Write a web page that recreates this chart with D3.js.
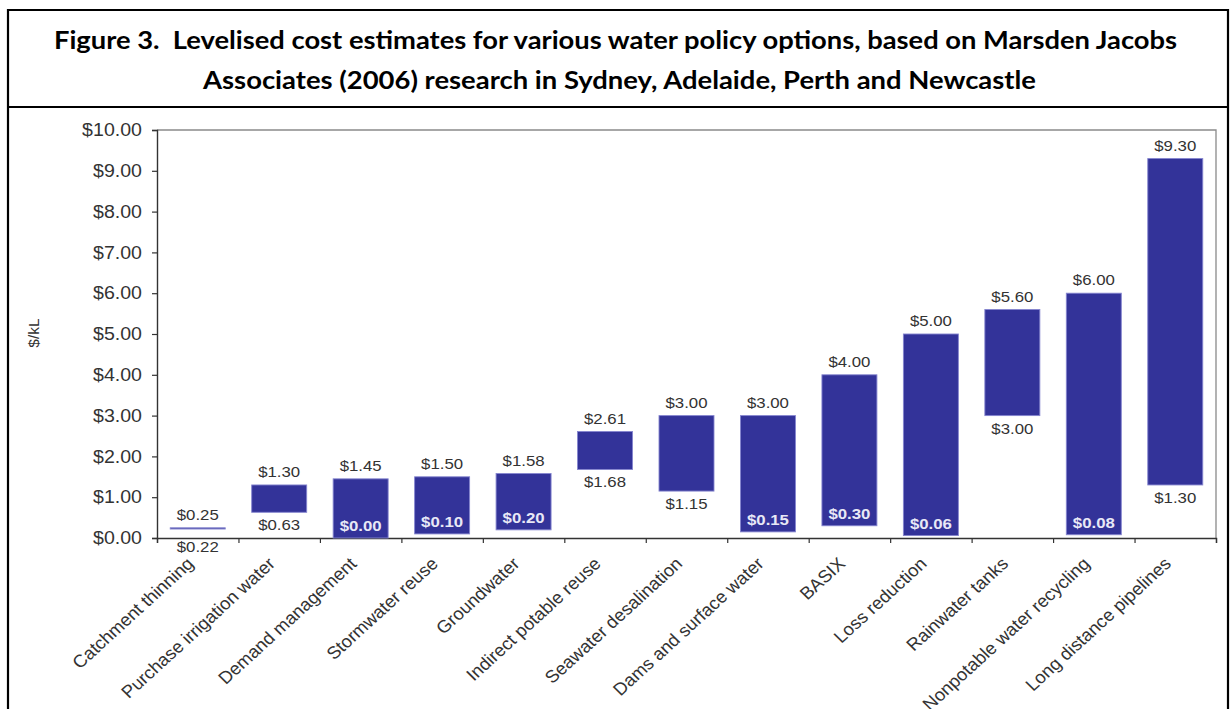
<!DOCTYPE html>
<html>
<head>
<meta charset="utf-8">
<script src="https://cdn.jsdelivr.net/npm/d3@7"></script>
<style>
  html, body { margin: 0; padding: 0; background: #fff; }
  svg { display: block; }
</style>
</head>
<body>
<svg id="chart" width="1231" height="709"></svg>
<script>
// Levelised cost ranges ($/kL) for each water supply / policy option
const categories = [
  "Catchment thinning", "Purchase irrigation water", "Demand management",
  "Stormwater reuse", "Groundwater", "Indirect potable reuse",
  "Seawater desalination", "Dams and surface water", "BASIX",
  "Loss reduction", "Rainwater tanks", "Nonpotable water recycling",
  "Long distance pipelines"
];
const lowCost  = [0.22, 0.63, 0.00, 0.10, 0.20, 1.68, 1.15, 0.15, 0.30, 0.06, 3.00, 0.08, 1.30];
const highCost = [0.25, 1.30, 1.45, 1.50, 1.58, 2.61, 3.00, 3.00, 4.00, 5.00, 5.60, 6.00, 9.30];
const yTicks   = [0, 1, 2, 3, 4, 5, 6, 7, 8, 9, 10];

const titleLines = [
  "Figure 3.\u00A0 Levelised cost estimates for various water policy options, based on Marsden Jacobs",
  "Associates (2006) research in Sydney, Adelaide, Perth and Newcastle"
];
const yTitle = "$/kL";

const rows = categories.map((c, i) => ({ name: c, low: lowCost[i], high: highCost[i] }));

const svg = d3.select("#chart");
const W = 1231, H = 709;

// ---- frame around title and chart ----
const frame = svg.append("g").attr("stroke", "#000").attr("stroke-width", 2.2).attr("fill", "none");
frame.append("line").attr("x1", 8).attr("x2", 1228).attr("y1", 10).attr("y2", 10);
frame.append("line").attr("x1", 8).attr("x2", 1228).attr("y1", 107).attr("y2", 107);
frame.append("line").attr("x1", 8).attr("x2", 8).attr("y1", 9).attr("y2", H);
frame.append("line").attr("x1", 1228).attr("x2", 1228).attr("y1", 9).attr("y2", H);

// ---- title ----
const titleSpans = [[54, 1177, 49], [203, 1036, 89]];
titleLines.forEach((t, i) => {
  const [x0, x1, yb] = titleSpans[i];
  svg.append("text")
    .attr("x", x0).attr("y", yb)
    .attr("font-family", "Lato, 'Open Sans', sans-serif")
    .attr("font-weight", 700)
    .attr("font-size", 25)
    .attr("fill", "#000")
    .attr("textLength", x1 - x0)
    .attr("lengthAdjust", "spacingAndGlyphs")
    .text(t);
});

// ---- plot area ----
const plot = { left: 157, right: 1216, top: 130, bottom: 538 };
const stretch = 1.12;   // chart text is set slightly wide

const x = d3.scaleBand()
  .domain(categories)
  .range([plot.left, plot.right])
  .paddingInner(0.325)
  .paddingOuter(0.1625);

const xEdges = d3.scaleLinear().domain([0, categories.length]).range([plot.left, plot.right]);

const y = d3.scaleLinear().domain([0, 10]).range([plot.bottom, plot.top]);

const fontAxis = "'Liberation Sans', Arial, sans-serif";
const textCol = "#333";

// plot-area outline (top and right in grey)
svg.append("path")
  .attr("d", `M${plot.left},${plot.top}H${plot.right}V${plot.bottom}`)
  .attr("fill", "none").attr("stroke", "#8a8a8a").attr("stroke-width", 1.3);

// y axis
const yAxis = svg.append("g")
  .attr("transform", `translate(${plot.left},0)`)
  .call(d3.axisLeft(y).tickValues(yTicks).tickSize(5).tickPadding(8.4)
        .tickFormat(d => "$" + d3.format(".2f")(d)));
yAxis.select(".domain").attr("stroke", "#333").attr("stroke-width", 1.4);
yAxis.selectAll(".tick line").attr("stroke", "#333").attr("stroke-width", 1.2);
yAxis.selectAll(".tick text")
  .attr("transform", `scale(${stretch},1)`)
  .attr("font-family", fontAxis).attr("font-size", 17.5).attr("fill", textCol);

// x axis with ticks on category boundaries
const xAxis = svg.append("g")
  .attr("transform", `translate(0,${plot.bottom})`)
  .call(d3.axisBottom(xEdges).tickValues(d3.range(0, categories.length + 1)).tickSize(5).tickFormat(""));
xAxis.select(".domain").attr("stroke", "#333").attr("stroke-width", 1.4);
xAxis.selectAll(".tick line").attr("stroke", "#333").attr("stroke-width", 1.2);

// category labels, slanted
svg.append("g").selectAll("text")
  .data(rows)
  .join("text")
  .attr("transform", d => `translate(${x(d.name) + x.bandwidth() / 2 - 3},${plot.bottom + 27}) scale(1.06,1) rotate(-44)`)
  .attr("text-anchor", "end")
  .attr("font-family", fontAxis)
  .attr("font-size", 17.5)
  .attr("fill", textCol)
  .text(d => d.name);

// y axis title
svg.append("text")
  .attr("transform", `translate(39,333) rotate(-90)`)
  .attr("text-anchor", "middle")
  .attr("font-family", fontAxis)
  .attr("font-size", 15.5)
  .attr("fill", textCol)
  .text(yTitle);

// ---- floating range bars ----
svg.append("g").selectAll("rect")
  .data(rows)
  .join("rect")
  .attr("x", d => x(d.name))
  .attr("width", x.bandwidth())
  .attr("y", d => y(d.high))
  .attr("height", d => Math.max(0.6, y(d.low) - y(d.high)))
  .attr("fill", "#333399")
  .attr("stroke", "#8585cf")
  .attr("stroke-width", 0.9);

const fmt = v => "$" + d3.format(".2f")(v);
const cx = d => x(d.name) + x.bandwidth() / 2;

// upper value labels
svg.append("g").selectAll("text")
  .data(rows)
  .join("text")
  .attr("transform", d => `translate(${cx(d)},${y(d.high) - 8}) scale(${stretch},1)`)
  .attr("text-anchor", "middle")
  .attr("font-family", fontAxis)
  .attr("font-size", 15)
  .attr("fill", textCol)
  .text(d => fmt(d.high));

// lower value labels: inside the bar when it reaches down near the axis
const inside = d => d.low < 0.5 && (d.high - d.low) > 0.5;
const thin = d => (y(d.low) - y(d.high)) < 3;
const lowY = d => inside(d) ? y(d.low) - 7 : y(d.low) + 18 + (thin(d) ? 5 : 0);
svg.append("g").selectAll("text")
  .data(rows)
  .join("text")
  .attr("transform", d => `translate(${cx(d)},${lowY(d)}) scale(${stretch},1)`)
  .attr("text-anchor", "middle")
  .attr("font-family", fontAxis)
  .attr("font-size", 15)
  .attr("font-weight", d => inside(d) ? 700 : 400)
  .attr("fill", d => inside(d) ? "#e8e8f6" : textCol)
  .text(d => fmt(d.low));
</script>
</body>
</html>
